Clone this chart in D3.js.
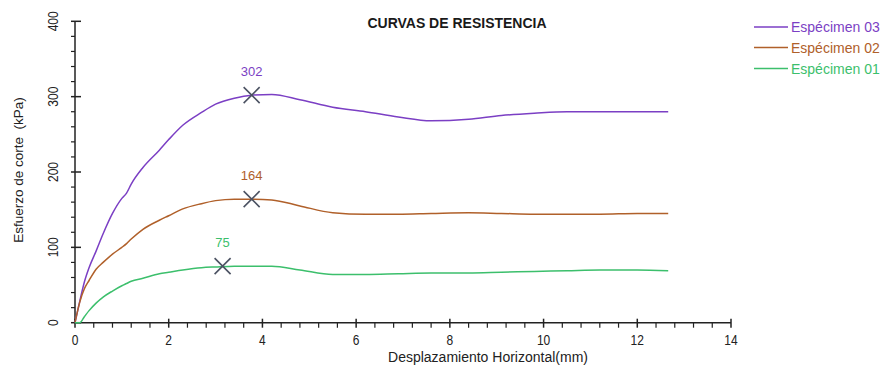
<!DOCTYPE html>
<html><head><meta charset="utf-8">
<script src="https://cdn.jsdelivr.net/npm/d3@7"></script>
<style>
body{margin:0;background:#fff;}
text{font-family:"Liberation Sans",Arial,sans-serif;}
</style></head>
<body><svg id="c" width="883" height="370"></svg>
<script>
const displacement = [0, 0.1, 0.2, 0.3, 0.45, 0.6, 0.8, 1.0, 1.1, 1.2, 1.45, 1.8, 2.0, 2.3, 2.7, 3.0, 3.4, 3.77, 4.2, 4.8, 5.5, 6.2, 6.9, 7.6, 8.4, 9.1, 9.8, 10.5, 11.2, 12.0, 12.66];
const esp03 = [0, 28, 54, 73, 95, 118, 145, 165, 172, 184, 206, 229, 243, 262, 279, 290, 298, 302, 303, 296, 286, 280, 273, 268, 270, 275, 278, 280, 280, 280, 280];
const esp02 = [0, 27, 45, 56, 71, 80, 91, 100, 105, 111, 124, 136, 142, 151, 158, 162, 164, 164, 163, 155, 146, 144, 144, 145, 146, 145, 144, 144, 144, 145, 145];
const esp01 = [0, 0, 8, 16, 26, 34, 42, 49, 52, 55, 59, 65, 67, 70, 73, 74, 75, 75, 75, 70, 64, 64, 65, 66, 66, 67, 68, 69, 70, 70, 69];
const seriesNames = ["Espécimen 03", "Espécimen 02", "Espécimen 01"];
const seriesColors = ["#7b3fc4", "#b0602a", "#3cbf6c"];
const peakX = [3.77, 3.77, 3.15];
const peakY = [302, 164, 75];
const xTicks = [0, 2, 4, 6, 8, 10, 12, 14];
const yTicks = [0, 100, 200, 300, 400];

const svg = d3.select("#c");
const x = d3.scaleLinear().domain([0, 14]).range([75, 731]);
const y = d3.scaleLinear().domain([0, 400]).range([322.7, 21.3]);
const axisColor = "#222";

// X axis
const gx = svg.append("g");
gx.append("line").attr("x1", x(0)).attr("x2", x(14)).attr("y1", y(0)).attr("y2", y(0))
  .attr("stroke", axisColor).attr("stroke-width", 1.5);
const xMinor = d3.range(0, 14.001, 0.4).filter(v => xTicks.every(t => Math.abs(t - v) > 1e-6));
gx.selectAll(".xm").data(xMinor).join("line")
  .attr("x1", d => x(d)).attr("x2", d => x(d)).attr("y1", y(0)).attr("y2", y(0) + 5)
  .attr("stroke", axisColor).attr("stroke-width", 1.2);
gx.selectAll(".xM").data(xTicks).join("line")
  .attr("x1", d => x(d)).attr("x2", d => x(d)).attr("y1", y(0) - 4).attr("y2", y(0) + 5)
  .attr("stroke", axisColor).attr("stroke-width", 1.5);
gx.selectAll(".xl").data(xTicks).join("text")
  .attr("transform", d => `translate(${x(d)},${y(0) + 22}) scale(0.8,1)`).attr("text-anchor", "middle")
  .attr("font-size", 15).attr("fill", "#222").text(d => d);

// Y axis
const gy = svg.append("g");
gy.append("line").attr("x1", x(0)).attr("x2", x(0)).attr("y1", y(0)).attr("y2", y(400))
  .attr("stroke", axisColor).attr("stroke-width", 1.5);
const yMinor = d3.range(0, 400.001, 20).filter(v => v % 100 !== 0);
gy.selectAll(".ym").data(yMinor).join("line")
  .attr("x1", x(0) - 4).attr("x2", x(0)).attr("y1", d => y(d)).attr("y2", d => y(d))
  .attr("stroke", axisColor).attr("stroke-width", 1.2);
gy.selectAll(".yM").data(yTicks).join("line")
  .attr("x1", x(0) - 4).attr("x2", x(0) + 6).attr("y1", d => y(d)).attr("y2", d => y(d))
  .attr("stroke", axisColor).attr("stroke-width", 1.5);
gy.selectAll(".yl").data(yTicks).join("text")
  .attr("transform", d => `translate(58,${y(d)}) rotate(-90) scale(0.8,1)`)
  .attr("text-anchor", "middle").attr("font-size", 15).attr("fill", "#222").text(d => d);

// axis titles
svg.append("text").attr("x", 488).attr("y", 362).attr("text-anchor", "middle")
  .attr("font-size", 14).attr("fill", "#222").text("Desplazamiento Horizontal(mm)");
svg.append("text").attr("transform", "translate(23,170) rotate(-90)").attr("text-anchor", "middle")
  .attr("font-size", 13.5).attr("fill", "#222").attr("xml:space", "preserve").text("Esfuerzo de corte  (kPa)");

// title
svg.append("text").attr("x", 457).attr("y", 28).attr("text-anchor", "middle")
  .attr("font-size", 14).attr("font-weight", "bold").attr("fill", "#1a1a1a")
  .text("CURVAS DE RESISTENCIA");

// lines
const allSeries = [esp03, esp02, esp01];
const line = d3.line().x((d, i) => x(displacement[i])).y(d => y(d)).curve(d3.curveMonotoneX);
svg.append("g").selectAll("path").data(allSeries).join("path")
  .attr("d", d => line(d)).attr("fill", "none")
  .attr("stroke", (d, i) => seriesColors[i]).attr("stroke-width", 1.5);

// peak markers
const peaks = peakX.map((px, i) => ({ px, py: peakY[i], c: seriesColors[i] }));
const mk = svg.append("g");
const s = 8;
peaks.forEach(p => {
  const cx = x(p.px), cy = y(p.py);
  mk.append("path").attr("d", `M${cx - s},${cy - s}L${cx + s},${cy + s}M${cx - s},${cy + s}L${cx + s},${cy - s}`)
    .attr("stroke", "#4b5262").attr("stroke-width", 1.6).attr("fill", "none");
  mk.append("text").attr("x", cx).attr("y", cy - 19).attr("text-anchor", "middle")
    .attr("font-size", 13).attr("fill", p.c).text(p.py);
});

// legend
const lg = svg.append("g");
seriesNames.forEach((n, i) => {
  const ly = [27, 47.5, 68.5][i];
  lg.append("line").attr("x1", 754).attr("x2", 788).attr("y1", ly).attr("y2", ly)
    .attr("stroke", seriesColors[i]).attr("stroke-width", 1.5);
  lg.append("text").attr("x", 791).attr("y", ly + 5).attr("font-size", 14)
    .attr("fill", seriesColors[i]).text(n);
});
</script></body></html>
